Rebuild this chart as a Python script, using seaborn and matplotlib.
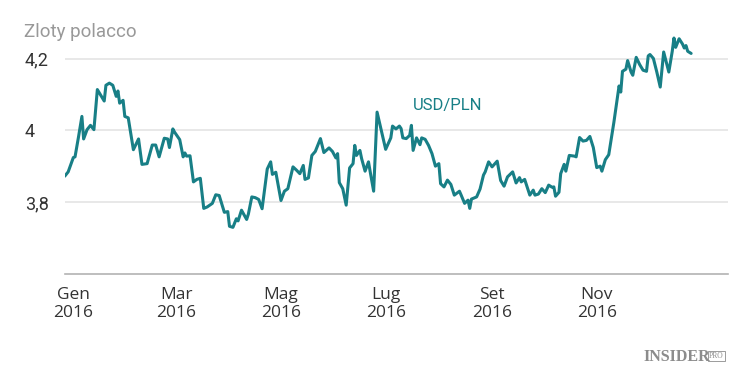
import pandas as pd
import seaborn as sns
import matplotlib.pyplot as plt
import matplotlib.dates as mdates

sns.set_theme(style="white")
plt.rcParams['font.family'] = ['Roboto', 'DejaVu Sans']

# USD/PLN, valori
dates = [
    "2015-12-27", "2015-12-29",
    "2016-01-01", "2016-01-02", "2016-01-04", "2016-01-06", "2016-01-07", "2016-01-09",
    "2016-01-11", "2016-01-13", "2016-01-15", "2016-01-19", "2016-01-20", "2016-01-22",
    "2016-01-24", "2016-01-26", "2016-01-27", "2016-01-28", "2016-01-30", "2016-01-31",
    "2016-02-02", "2016-02-05", "2016-02-08", "2016-02-10", "2016-02-13", "2016-02-16",
    "2016-02-18", "2016-02-20", "2016-02-23", "2016-02-25", "2016-02-26", "2016-02-28",
    "2016-02-29",
    "2016-03-03", "2016-03-05", "2016-03-06", "2016-03-07", "2016-03-09", "2016-03-11",
    "2016-03-13", "2016-03-15", "2016-03-17", "2016-03-19", "2016-03-22", "2016-03-24",
    "2016-03-26", "2016-03-29", "2016-03-31",
    "2016-04-01", "2016-04-03", "2016-04-05", "2016-04-06", "2016-04-08", "2016-04-11",
    "2016-04-12", "2016-04-14", "2016-04-16", "2016-04-18", "2016-04-20", "2016-04-23",
    "2016-04-25", "2016-04-26", "2016-04-28",
    "2016-05-01", "2016-05-03", "2016-05-05", "2016-05-08", "2016-05-10", "2016-05-12",
    "2016-05-14", "2016-05-15", "2016-05-17", "2016-05-19", "2016-05-21", "2016-05-24",
    "2016-05-26", "2016-05-29", "2016-05-31",
    "2016-06-02", "2016-06-03", "2016-06-04", "2016-06-06", "2016-06-08", "2016-06-10",
    "2016-06-12", "2016-06-13", "2016-06-14", "2016-06-16", "2016-06-17", "2016-06-19",
    "2016-06-21", "2016-06-22", "2016-06-24", "2016-06-26", "2016-06-28",
    "2016-07-01", "2016-07-04", "2016-07-05", "2016-07-07", "2016-07-09", "2016-07-10",
    "2016-07-11", "2016-07-13", "2016-07-15", "2016-07-16", "2016-07-17", "2016-07-19",
    "2016-07-21", "2016-07-22", "2016-07-24", "2016-07-26", "2016-07-28", "2016-07-30",
    "2016-08-01", "2016-08-02", "2016-08-04", "2016-08-06", "2016-08-08", "2016-08-10",
    "2016-08-13", "2016-08-14", "2016-08-16", "2016-08-18", "2016-08-19", "2016-08-20",
    "2016-08-23", "2016-08-25", "2016-08-27", "2016-08-28", "2016-08-30",
    "2016-09-01", "2016-09-04", "2016-09-06", "2016-09-08", "2016-09-10", "2016-09-13",
    "2016-09-15", "2016-09-17", "2016-09-18", "2016-09-20", "2016-09-23", "2016-09-25",
    "2016-09-26", "2016-09-28", "2016-09-30",
    "2016-10-02", "2016-10-04", "2016-10-06", "2016-10-07", "2016-10-08", "2016-10-10",
    "2016-10-11", "2016-10-13", "2016-10-14", "2016-10-16", "2016-10-19", "2016-10-20",
    "2016-10-22", "2016-10-24", "2016-10-26", "2016-10-28", "2016-10-30",
    "2016-11-01", "2016-11-03", "2016-11-04", "2016-11-06", "2016-11-08", "2016-11-11",
    "2016-11-14", "2016-11-15", "2016-11-16", "2016-11-18", "2016-11-19", "2016-11-21",
    "2016-11-22", "2016-11-24", "2016-11-26", "2016-11-28", "2016-11-30",
    "2016-12-01", "2016-12-02", "2016-12-04", "2016-12-06", "2016-12-08", "2016-12-10",
    "2016-12-13", "2016-12-15", "2016-12-16", "2016-12-17", "2016-12-19", "2016-12-21",
    "2016-12-22", "2016-12-23", "2016-12-24", "2016-12-26",
]
usd_pln = [
    3.872, 3.884,
    3.924, 3.926, 3.981, 4.039, 3.976, 4.002,
    4.014, 4.002, 4.114, 4.082, 4.126, 4.132,
    4.126, 4.095, 4.110, 4.076, 4.084, 4.039,
    4.035, 3.946, 3.976, 3.905, 3.907, 3.959,
    3.959, 3.926, 3.978, 3.976, 3.952, 4.004,
    3.995,
    3.974, 3.926, 3.937, 3.928, 3.929, 3.856,
    3.863, 3.866, 3.782, 3.786, 3.796, 3.820,
    3.818, 3.771, 3.773,
    3.732, 3.729, 3.753, 3.747, 3.777, 3.751,
    3.766, 3.814, 3.812, 3.807, 3.781, 3.892,
    3.912, 3.877, 3.883,
    3.804, 3.830, 3.837, 3.898, 3.889, 3.879,
    3.902, 3.863, 3.867, 3.930, 3.941, 3.977,
    3.938, 3.951, 3.941,
    3.923, 3.935, 3.854, 3.837, 3.791, 3.895,
    3.907, 3.958, 3.930, 3.944, 3.921, 3.886,
    3.912, 3.884, 3.830, 4.051, 4.009,
    3.947, 3.979, 4.012, 4.004, 4.012, 4.005,
    3.979, 3.977, 3.986, 4.014, 3.944, 3.979,
    3.960, 3.979, 3.975, 3.958, 3.935, 3.900,
    3.907, 3.851, 3.842, 3.861, 3.849, 3.819,
    3.830, 3.819, 3.796, 3.805, 3.782, 3.808,
    3.814, 3.836, 3.875, 3.884, 3.912,
    3.898, 3.914, 3.860, 3.844, 3.870, 3.884,
    3.853, 3.868, 3.856, 3.863, 3.819, 3.833,
    3.819, 3.822, 3.837,
    3.826, 3.847, 3.841, 3.842, 3.816, 3.827,
    3.879, 3.905, 3.886, 3.930, 3.928, 3.926,
    3.980, 3.970, 3.972, 3.983, 3.952,
    3.896, 3.900, 3.886, 3.918, 3.932, 4.023,
    4.124, 4.107, 4.165, 4.171, 4.195, 4.163,
    4.154, 4.204, 4.184, 4.168, 4.165,
    4.208, 4.212, 4.201, 4.163, 4.121, 4.219,
    4.163, 4.221, 4.258, 4.232, 4.256, 4.241,
    4.230, 4.237, 4.221, 4.215,
]

tick_dates = ["2016-01-01", "2016-03-01", "2016-05-01", "2016-07-01", "2016-09-01", "2016-11-01"]
tick_labels = ["Gen\n2016", "Mar\n2016", "Mag\n2016", "Lug\n2016", "Set\n2016", "Nov\n2016"]
y_ticks = [3.8, 4.0, 4.2]
y_labels = ["3,8", "4", "4,2"]

df = pd.DataFrame({"data": pd.to_datetime(dates), "valore": usd_pln})

teal = "#187f86"
fig = plt.figure(figsize=(7.5, 3.82), dpi=100)
ax = fig.add_axes([0.0867, 0.284, 0.884, 0.623])

sns.lineplot(data=df, x="data", y="valore", ax=ax, color=teal, linewidth=2.2)

ax.set_xlim(pd.Timestamp("2015-12-27 04:00"), pd.Timestamp("2017-01-16 12:00"))
ax.set_ylim(3.6, 4.265)
ax.set_xlabel("")
ax.set_ylabel("")

ax.set_xticks(pd.to_datetime(tick_dates))
ax.set_xticklabels(tick_labels, fontfamily="Open Sans", fontsize=12.5, color="#333333",
                   linespacing=1.2)
ax.set_yticks(y_ticks)
ax.set_yticklabels(y_labels, fontsize=13, color="#333333", ha="left")

ax.tick_params(axis="x", length=4, width=1, color="#b3b3b3", pad=5.5)
ax.tick_params(axis="y", length=0, pad=29)
ax.grid(axis="y", color="#e6e6e6", linewidth=1.3)
ax.grid(axis="x", visible=False)
for s in ["top", "right", "left"]:
    ax.spines[s].set_visible(False)
ax.spines["bottom"].set_color("#b3b3b3")
ax.spines["bottom"].set_linewidth(1.2)

ax.text(mdates.date2num(pd.Timestamp("2016-07-17")), 4.07, "USD/PLN",
        color=teal, fontsize=12, ha="left", va="center")

fig.text(24 / 750, 1 - 32 / 382, "Zloty polacco", fontsize=13.5, color="#999999",
         ha="left", va="center")

fig.text(643 / 750, 1 - 357 / 382, "INSIDER", fontsize=11.5, fontweight="bold",
         fontfamily="Liberation Serif", color="#8c8c8c", ha="left", va="center")
fig.text(709 / 750, 1 - 356 / 382, "PRO", fontsize=5.5, fontfamily="Liberation Serif",
         color="#8c8c8c", ha="left", va="center",
         bbox=dict(boxstyle="square,pad=0.15", fc="none", ec="#8c8c8c", lw=0.6))

fig.savefig("out.png", dpi=100, facecolor="white")
